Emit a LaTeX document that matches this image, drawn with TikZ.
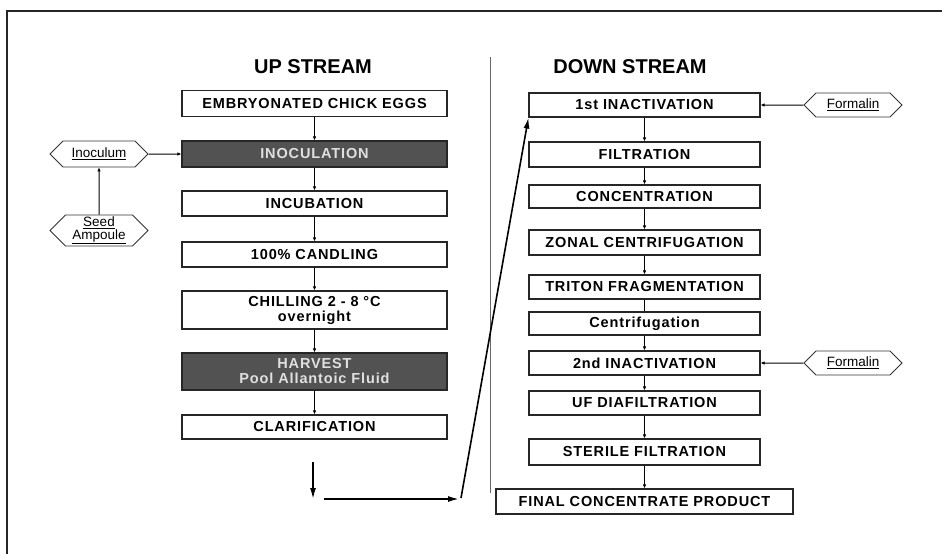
\documentclass[tikz,border=0pt]{standalone}
\usepackage{fontspec}
\setmainfont{Liberation Sans}
\newfontfamily\stepfont[LetterSpace=6]{Liberation Sans}
\usetikzlibrary{shapes.symbols,arrows.meta}

\begin{document}
\begin{tikzpicture}[x=1pt,y=-1pt,
  stage/.style={draw=black!85,line width=1.1pt,fill=white,minimum width=265pt,
    inner sep=0pt,align=center,font=\stepfont\fontsize{14.5}{15}\selectfont\bfseries},
  dark/.style={stage,fill=black!68,text=black!12},
  agent/.style={signal,signal to=west and east,draw=black!80,line width=0.8pt,
    minimum width=98pt,inner sep=0pt,align=center,font=\fontsize{13.5}{12.5}\selectfont},
  flow/.style={draw=black,line width=1pt,-{Latex[length=4pt,width=3.5pt]}},
  route/.style={line width=1.6pt,-{Latex[length=11pt,width=6pt]}}]
\useasboundingbox (0,0) rectangle (942,554);
% frame and divider
\draw[line width=1.4pt,black!85] (7,554) -- (7,11) -- (942,11);
\draw[black!60,line width=0.9pt] (490,57) -- (490,493);
\node[font=\fontsize{20}{22}\selectfont\bfseries] (up) at (313,67) {UP STREAM};
\node[font=\fontsize{20}{22}\selectfont\bfseries] (down) at (630,67) {DOWN STREAM};

% up stream
\node[stage,minimum height=26pt] (eggs) at (314.5,103.5) {EMBRYONATED CHICK EGGS};
\node[dark,minimum height=26pt] (inoc) at (314.5,154) {INOCULATION};
\node[stage,minimum height=25pt] (incub) at (314.5,203.5) {INCUBATION};
\node[stage,minimum height=25pt] (candl) at (314.5,254.5) {100\% CANDLING};
\node[stage,minimum height=38pt] (chill) at (314.5,310) {CHILLING 2 - 8 °C\\overnight};
\node[dark,minimum height=37pt] (harv) at (314.5,371.5) {HARVEST\\Pool Allantoic Fluid};
\node[stage,minimum height=24pt] (clar) at (314.5,427) {CLARIFICATION};
\node[agent,minimum height=26pt] (inoculum) at (99,154) {\underline{Inoculum}};
\node[agent,minimum height=31pt] (seed) at (99,230.5) {\underline{Seed}\\\underline{Ampoule}};

% down stream
\begin{scope}[stage/.append style={minimum width=231pt}]
\node[stage,minimum height=24pt] (inact1) at (644.5,105) {1st INACTIVATION};
\node[stage,minimum height=25pt] (filt) at (644.5,154.5) {FILTRATION};
\node[stage,minimum height=23pt] (conc) at (644.5,196.5) {CONCENTRATION};
\node[stage,minimum height=25pt] (zonal) at (644.5,242.5) {ZONAL CENTRIFUGATION};
\node[stage,minimum height=24pt] (triton) at (644.5,287) {TRITON FRAGMENTATION};
\node[stage,minimum height=23pt] (centr) at (644.5,323.5) {Centrifugation};
\node[stage,minimum height=24pt] (inact2) at (644.5,363) {2nd INACTIVATION};
\node[stage,minimum height=24pt] (uf) at (644.5,403) {UF DIAFILTRATION};
\node[stage,minimum height=26pt] (steril) at (644.5,452) {STERILE FILTRATION};
\end{scope}
\node[stage,minimum width=297pt,minimum height=25pt] (final) at (644.5,501.5) {FINAL CONCENTRATE PRODUCT};
\node[agent,minimum height=24pt] (form1) at (853,105) {\underline{Formalin}};
\node[agent,minimum height=24pt] (form2) at (853,363) {\underline{Formalin}};

% connectors
\foreach \a/\b in {eggs/inoc,inoc/incub,incub/candl,candl/chill,chill/harv,harv/clar,
    inact1/filt,filt/conc,conc/zonal,zonal/triton,centr/inact2,inact2/uf,uf/steril,steril/final,
    inoculum/inoc,seed/inoculum,form1/inact1,form2/inact2}
  \draw[flow] (\a) -- (\b);
\draw[draw=black,line width=1pt] (triton) -- (centr);

% hand-over to down stream
\coordinate (drop) at (313,462);
\coordinate (turn) at (313,499);
\coordinate (run) at (324,499);
\coordinate (rise) at (459,499);
\coordinate (lift) at (461,498);
\draw[route] (drop) -- (turn);
\draw[route] (run) -- (rise);
\draw[route] (lift) -- (inact1.south west);
\end{tikzpicture}
\end{document}
